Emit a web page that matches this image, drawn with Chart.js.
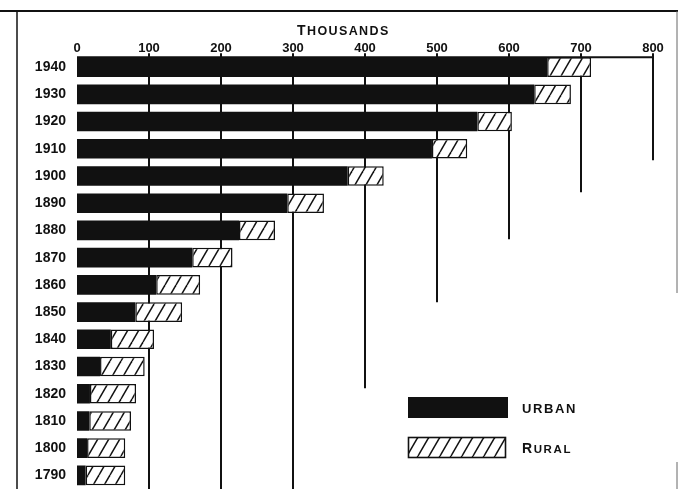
<!DOCTYPE html>
<html>
<head>
<meta charset="utf-8">
<script src="https://cdn.jsdelivr.net/npm/chart.js@4/dist/chart.umd.min.js"></script>
<style>
  html, body { margin: 0; padding: 0; background: #fff; }
  #chartDanSo { display: block; }
</style>
</head>
<body>
<canvas id="chartDanSo" width="678" height="489"></canvas>
<script>
// census years, newest at the top
var years = ['1940', '1930', '1920', '1910', '1900', '1890', '1880', '1870',
             '1860', '1850', '1840', '1830', '1820', '1810', '1800', '1790'];
// population in thousands
var urban = [653, 635, 556, 493, 376, 292, 225, 160, 110, 81, 47, 32, 18, 17, 14, 12];
var rural = [61, 51, 48, 49, 50, 51, 50, 56, 61, 65, 60, 62, 64, 58, 53, 55];
var xTicks = [0, 100, 200, 300, 400, 500, 600, 700, 800];

var INK = '#111';
var FONT = '"Liberation Sans", Arial, sans-serif';

var $ctx = document.getElementById('chartDanSo').getContext('2d');

function makeHatch() {
    var c = document.createElement('canvas');
    c.width = 11;
    c.height = 19;
    var g = c.getContext('2d');
    g.fillStyle = '#fff';
    g.fillRect(0, 0, 11, 19);
    g.strokeStyle = INK;
    g.lineWidth = 1.5;
    for (var k = -1; k <= 1; k++) {
        g.beginPath();
        g.moveTo(k * 11, 19);
        g.lineTo(k * 11 + 11, 0);
        g.stroke();
    }
    return $ctx.createPattern(c, 'repeat');
}
var hatch = makeHatch();

// text with spacing, first letter can be bigger (small caps look)
function spacedText(ctx, first, rest, x, y, bigSize, smallSize, spacing) {
    ctx.save();
    ctx.fillStyle = INK;
    ctx.textBaseline = 'alphabetic';
    ctx.textAlign = 'left';
    ctx.letterSpacing = spacing + 'px';
    ctx.font = 'bold ' + bigSize + 'px ' + FONT;
    ctx.fillText(first, x, y);
    var w = ctx.measureText(first).width;
    ctx.font = 'bold ' + smallSize + 'px ' + FONT;
    ctx.fillText(rest, x + w, y);
    ctx.restore();
}

var staircase = {
    id: 'staircase',
    beforeDraw: function (chart) {
        var c = chart.ctx;
        c.save();
        c.fillStyle = '#fff';
        c.fillRect(0, 0, chart.width, chart.height);
        c.restore();
    },
    beforeDatasetsDraw: function (chart, args, opts) {
        var c = chart.ctx;
        var xs = chart.scales.x, ys = chart.scales.y;
        var axisY = ys.getPixelForValue(-0.36);
        c.save();
        c.strokeStyle = INK;
        c.lineWidth = 2;
        // top axis line
        c.beginPath();
        c.moveTo(xs.getPixelForValue(0), axisY);
        c.lineTo(xs.getPixelForValue(800), axisY);
        c.stroke();
        // vertical lines, each one stops at its own row
        xTicks.forEach(function (v) {
            if (v === 0) return;
            var stop = opts.stops[v];
            var x = Math.round(xs.getPixelForValue(v));
            c.beginPath();
            c.moveTo(x, axisY - 4);
            c.lineTo(x, stop === undefined ? chart.height : ys.getPixelForValue(stop));
            c.stroke();
        });
        c.restore();
    },
    afterDraw: function (chart) {
        var c = chart.ctx;
        c.save();
        // frame
        c.strokeStyle = INK;
        c.lineWidth = 2;
        c.beginPath();
        c.moveTo(0, 11);
        c.lineTo(678, 11);
        c.stroke();
        c.lineWidth = 1.5;
        c.beginPath();
        c.moveTo(17, 11);
        c.lineTo(17, 489);
        c.stroke();
        c.strokeStyle = '#666';
        c.lineWidth = 1;
        c.beginPath();
        c.moveTo(677, 11);
        c.lineTo(677, 293);
        c.moveTo(677, 462);
        c.lineTo(677, 489);
        c.stroke();

        // title
        spacedText(c, 'T', 'HOUSANDS', 297, 35, 14, 12.5, 1.4);

        // legend
        c.fillStyle = INK;
        c.fillRect(408, 397, 100, 21);
        c.fillStyle = hatch;
        c.fillRect(408, 437, 98, 21);
        c.strokeStyle = INK;
        c.lineWidth = 1.6;
        c.strokeRect(408.5, 437.5, 97, 20);
        spacedText(c, 'U', 'RBAN', 522, 413, 13, 13, 1.6);
        spacedText(c, 'R', 'URAL', 522, 453, 14, 11.5, 1.6);
        c.restore();
    }
};

new Chart($ctx, {
    type: 'bar',
    data: {
        labels: years,
        datasets: [{
            label: 'Urban',
            data: urban,
            backgroundColor: INK,
            borderWidth: 0,
            barPercentage: 0.72,
            categoryPercentage: 1
        }, {
            label: 'Rural',
            data: rural,
            backgroundColor: hatch,
            borderColor: INK,
            borderWidth: 1.5,
            borderSkipped: false,
            barPercentage: 0.72,
            categoryPercentage: 1
        }]
    },
    options: {
        indexAxis: 'y',
        responsive: false,
        animation: false,
        layout: { padding: { left: 0, right: 25, top: 0, bottom: 0 } },
        plugins: {
            legend: { display: false },
            tooltip: { enabled: false },
            title: { display: false },
            staircase: { stops: { 400: 11.8, 500: 8.64, 600: 6.32, 700: 4.6, 800: 3.42 } }
        },
        scales: {
            x: {
                position: 'top',
                stacked: true,
                min: 0,
                max: 800,
                afterBuildTicks: function (scale) {
                    scale.ticks = xTicks.map(function (v) { return { value: v }; });
                },
                afterFit: function (scale) { scale.height = 53.5; },
                grid: { display: false, drawTicks: false },
                border: { display: false },
                ticks: {
                    color: INK,
                    padding: -3,
                    maxRotation: 0,
                    font: { family: FONT, size: 13, weight: 'bold' }
                }
            },
            y: {
                stacked: true,
                afterFit: function (scale) {
                    scale.width = 77;
                    // rows run right down to the bottom edge
                    scale.paddingTop = 0;
                    scale.paddingBottom = 0;
                },
                grid: { display: false, drawTicks: false },
                border: { display: false },
                ticks: {
                    color: INK,
                    padding: 11,
                    font: { family: FONT, size: 14, weight: 'bold' }
                }
            }
        }
    },
    plugins: [staircase]
});
</script>
</body>
</html>
